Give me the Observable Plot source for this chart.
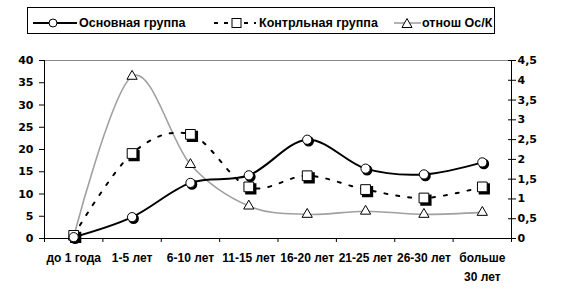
<!DOCTYPE html>
<html>
<head>
<meta charset="utf-8">
<script src="https://cdn.jsdelivr.net/npm/d3@7"></script>
<script src="https://cdn.jsdelivr.net/npm/@observablehq/plot@0.6"></script>
<style>
  html, body { margin: 0; padding: 0; background: white; }
  #wrap { position: relative; width: 561px; height: 302px; overflow: hidden; font-family: "Liberation Sans", Arial, sans-serif; font-weight: bold; }
  #legend { position: absolute; left: 27px; top: 7px; width: 466px; height: 25px; border: 1px solid black; background: white; }
  .lt { position: absolute; top: 15px; height: 16px; line-height: 16px; font-size: 12.5px; white-space: nowrap; color: black; }
  .ls { position: absolute; top: 15px; }
</style>
</head>
<body>
<div id="wrap"></div>
<script>
// ---- data ----
const categories = ["до 1 года", "1-5 лет", "6-10 лет", "11-15 лет", "16-20 лет", "21-25 лет", "26-30 лет", "больше\n30 лет"];
const mainGroup = [0.3, 4.8, 12.5, 14.2, 22.2, 15.7, 14.4, 17.1];
const controlGroup = [0.7, 19.1, 23.4, 11.6, 14.1, 11.0, 9.1, 11.6];
const ratio = [0.05, 4.1, 1.87, 0.82, 0.61, 0.69, 0.61, 0.66];
const leftTicks = [0, 5, 10, 15, 20, 25, 30, 35, 40];
const rightTicks = [0, 0.5, 1, 1.5, 2, 2.5, 3, 3.5, 4, 4.5];
const seriesNames = ["Основная группа", "Контрльная группа", "отнош Ос/К"];

const leftMax = 40, rightMax = 4.5;
const k = leftMax / rightMax;
const idx = d3.range(categories.length);
const bounds = d3.range(categories.length + 1).map(i => i - 0.5);
const fmtR = v => String(Math.round(v / k * 10) / 10).replace(".", ",");

const chart = Plot.plot({
  width: 561,
  height: 302,
  marginTop: 60,
  marginLeft: 44,
  marginRight: 50,
  marginBottom: 64,
  style: { fontFamily: "DejaVu Sans, sans-serif", fontWeight: "bold", fontSize: "11px", background: "transparent", color: "black" },
  x: { domain: [-0.5, categories.length - 0.5], axis: null },
  y: { domain: [0, leftMax], axis: null },
  marks: [
    Plot.ruleY([leftMax], { stroke: "#888", strokeWidth: 1 }),
    Plot.ruleX([bounds[0], bounds[bounds.length - 1]], { stroke: "black", strokeWidth: 1 }),
    Plot.ruleY([0], { stroke: "black", strokeWidth: 1 }),
    Plot.axisY({ anchor: "left", ticks: leftTicks, tickSize: 5, tickPadding: 6, fontSize: 11, stroke: "black" }),
    Plot.axisY({ anchor: "right", ticks: rightTicks.map(v => v * k), tickFormat: fmtR, tickSize: 4, tickPadding: 2, fontSize: 11, stroke: "black" }),
    Plot.axisY({ anchor: "right", ticks: rightTicks.map(v => v * k), tickFormat: () => "", tickSize: -4, stroke: "black" }),
    Plot.axisX({ anchor: "bottom", ticks: bounds, tickFormat: () => "", tickSize: 4, stroke: "black" }),
    Plot.axisX({ anchor: "bottom", ticks: idx, tickFormat: i => categories[i], tickSize: 0, tickPadding: 10, lineHeight: 1.6, fontSize: 12, fontFamily: "Liberation Sans, Arial, sans-serif" }),
    // ratio series
    Plot.line(idx, { x: i => i, y: i => ratio[i] * k, curve: "cardinal", stroke: "#a0a0a0", strokeWidth: 1.6 }),
    // control series
    Plot.line(idx, { x: i => i, y: i => controlGroup[i], curve: "cardinal", stroke: "black", strokeWidth: 2, strokeDasharray: "3,9" }),
    // main series
    Plot.line(idx, { x: i => i, y: i => mainGroup[i], curve: "cardinal", stroke: "black", strokeWidth: 2 }),
    Plot.dot(idx, { x: i => i, y: i => ratio[i] * k, symbol: "triangle", r: 3.8, fill: "white", stroke: "black", strokeWidth: 1 }),
    Plot.dot(idx, { x: i => i, y: i => controlGroup[i], symbol: "square", r: 5.5, fill: "black", stroke: "black", dx: 2, dy: 2 }),
    Plot.dot(idx, { x: i => i, y: i => controlGroup[i], symbol: "square", r: 5.5, fill: "white", stroke: "black", strokeWidth: 1 }),
    Plot.dot(idx, { x: i => i, y: i => mainGroup[i], r: 4.6, fill: "black", stroke: "black", dx: 1.5, dy: 1.5 }),
    Plot.dot(idx, { x: i => i, y: i => mainGroup[i], r: 4.6, fill: "white", stroke: "black", strokeWidth: 1 })
  ]
});

const wrap = document.getElementById("wrap");
wrap.appendChild(chart);
chart.style.position = "absolute";
chart.style.left = "0px";
chart.style.top = "0px";

// ---- legend (HTML) ----
const legend = document.createElement("div");
legend.id = "legend";
wrap.appendChild(legend);

function addSvg(left, width, inner) {
  const d = document.createElement("div");
  d.className = "ls";
  d.style.left = left + "px";
  d.innerHTML = `<svg width="${width}" height="14" style="display:block">${inner}</svg>`;
  wrap.appendChild(d);
}
function addText(left, txt) {
  const s = document.createElement("span");
  s.className = "lt";
  s.style.left = left + "px";
  s.textContent = txt;
  wrap.appendChild(s);
}
addSvg(32, 48, `<line x1="1" x2="45" y1="8" y2="8" stroke="black" stroke-width="2"/><circle cx="21" cy="8" r="4" fill="white" stroke="black"/>`);
addText(79, seriesNames[0]);
addSvg(214, 44, `<line x1="0" x2="42" y1="8" y2="8" stroke="black" stroke-width="2" stroke-dasharray="4,6"/><rect x="18" y="3.5" width="9" height="9" fill="white" stroke="black"/>`);
addText(259, seriesNames[1]);
addSvg(394, 28, `<line x1="0" x2="27" y1="8" y2="8" stroke="#a0a0a0" stroke-width="1.6"/><path d="M13,3.5 L18,12.5 L8,12.5 Z" fill="white" stroke="black"/>`);
addText(422, seriesNames[2]);
</script>
</body>
</html>
